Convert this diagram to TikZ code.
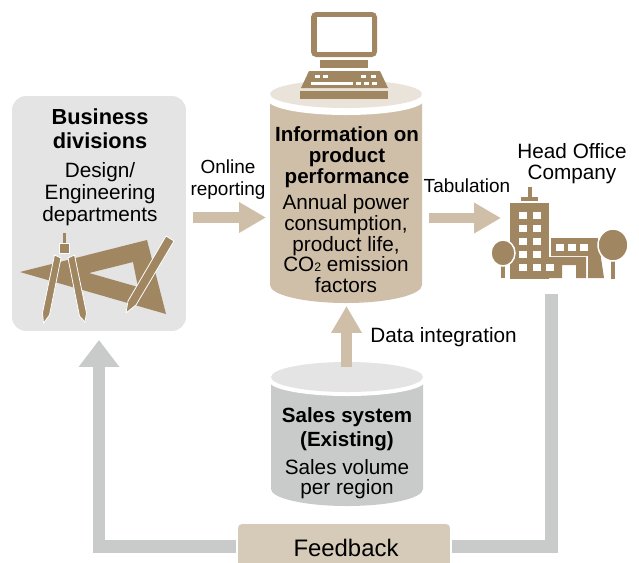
\documentclass[tikz,border=0pt]{standalone}
\usepackage{fontspec}
\setmainfont{Liberation Sans}
\usetikzlibrary{arrows.meta}
\definecolor{iconbrown}{HTML}{A08661}
\definecolor{tanbody}{HTML}{D0BFA8}
\definecolor{tantop}{HTML}{E9E3DA}
\definecolor{tanbox}{HTML}{D6CBB8}
\definecolor{greybody}{HTML}{C9CBCA}
\definecolor{greybox}{HTML}{E4E4E4}
\tikzset{
    txt/.style={font=\fontsize{11.8}{12}\selectfont,inner sep=0pt,text height=10.6pt,text depth=2.2pt},
    txtsmall/.style={txt,font=\fontsize{10.8}{12}\selectfont},
    txtbold/.style={txt,font=\fontsize{11.7}{12}\selectfont\bfseries},
    txtbig/.style={txt,font=\fontsize{12.4}{13}\selectfont\bfseries},
    icon/.style={fill=iconbrown},
    iconline/.style={fill=iconbrown,draw=white,line width=0.016cm},
    hole/.style={fill=white},
    softarrow/.style={draw=tanbody,line width=0.21cm,-{Triangle[length=0.54cm,width=0.58cm]}},
    backline/.style={draw=greybody,line width=0.26cm},
    backarrow/.style={backline,-{Triangle[length=0.54cm,width=0.78cm]}},
    region/.style={inner sep=0pt,outer sep=0pt}
}
\begin{document}
\begin{tikzpicture}[x=0.02cm,y=-0.02cm]
\clip (0,0) rectangle (639,562);
% Business divisions box
\node [region,fill=greybox,rounded corners=0.28cm,minimum width=3.48cm,minimum height=4.7cm] (business) at (99,213.5) {};
\node [txtbig] (businessa) at (100,117) {Business};
\node [txtbig] (businessb) at (100,141) {divisions};
\node [txt] (design) at (100,170) {Design/};
\node [txt] (engineering) at (100,192) {Engineering};
\node [txt] (departments) at (100,214) {departments};
% Set square
\fill [icon,even odd rule] (20,272) -- (147,240) -- (166,314) -- cycle
    (89,273) -- (133,262) -- (138,287) -- cycle;
% Compass
\fill [icon] (62.5,233) rectangle (65.5,243);
\draw [iconline] (59,243) rectangle (69,253);
\draw [iconline] (54.5,255) -- (61,258) -- (49.5,315) -- (43.5,323) -- (42.5,313) -- cycle;
\draw [iconline] (74.5,255) -- (68,258) -- (79.5,316) -- (85,322) -- (86.5,313) -- cycle;
% Pencil
\draw [iconline,line join=round] (126,313) -- (128,301) -- (166,236) -- (174,241) -- (136,305) -- cycle;
% Information cylinder
\fill [tanbody] (270,100) -- (270,285) arc [start angle=180,end angle=360,x radius=76,y radius=-18] -- (422,100) -- cycle;
\fill [white] (346,100) ellipse [x radius=78,y radius=15];
\fill [tantop] (346,94) ellipse [x radius=76,y radius=14];
\node [region,minimum width=3.04cm,minimum height=4.46cm] (infobody) at (346,191.5) {};
\node [txtbold] (infoa) at (347,134) {Information on};
\node [txtbold] (infob) at (347,155) {product};
\node [txtbold] (infoc) at (347,176) {performance};
\node [txt] (infod) at (346,202) {Annual power};
\node [txt] (infoe) at (346,223) {consumption,};
\node [txt] (infof) at (346,244) {product life,};
\node [txt] (infog) at (346,264) {CO{\fontsize{7}{7}\selectfont 2} emission};
\node [txt] (infoh) at (346,285) {factors};
% Computer
\fill [icon,rounded corners=0.1cm] (311,12) rectangle (377,57);
\fill [hole] (317,17) rectangle (372,52);
\fill [icon] (320,60) rectangle (368,68);
\fill [icon] (309,71) -- (380,71) -- (388,88) -- (301,88) -- cycle;
\fill [icon] (300,91) rectangle (388,99);
\foreach \u in {315,323,361,371}{
    \fill [hole] (\u,75) rectangle +(5,3);
}
\fill [hole] (311,82) rectangle (353,85);
\foreach \u in {356,364,372}{
    \fill [hole] (\u,82) rectangle +(5,3);
}
% Sales cylinder
\fill [greybody] (271,384) -- (271,489) arc [start angle=180,end angle=360,x radius=76,y radius=-17] -- (423,384) -- cycle;
\fill [white] (347,381) ellipse [x radius=78,y radius=15];
\fill [greybox] (347,377) ellipse [x radius=76,y radius=15];
\node [region,minimum width=3.04cm,minimum height=2.88cm] (salesbody) at (347,434) {};
\node [txtbold] (salesa) at (347,415) {Sales system};
\node [txtbold] (salesb) at (347,439) {(Existing)};
\node [txt] (salesc) at (347,467) {Sales volume};
\node [txt] (salesd) at (347,487) {per region};
% Building
\node [region,icon,minimum width=0.78cm,minimum height=1.52cm] (tower) at (529.5,241) {};
\fill [icon] (528,187) rectangle (532,197);
\fill [icon] (521,197) rectangle (538,201);
\fill [icon] (549,257) -- (586,257) -- (586,278) -- (576,278) -- (576,265) -- (562,265) -- (562,278) -- (549,278) -- cycle;
\fill [icon] (551,238) -- (598,238) -- (604,278) -- (588,278) -- (588,256) -- (551,256) -- cycle;
\foreach \a in {212,225,238,251,264}{
    \foreach \u in {519,533}{
        \fill [hole] (\u,\a) rectangle +(8,7);
    }
}
\fill [hole] (546,264) rectangle +(8,7);
\foreach \u in {556,568,580}{
    \fill [hole] (\u,244) rectangle +(8,7);
}
% Trees
\fill [icon] (611,250) rectangle (615,279);
\draw [iconline,line width=0.03cm] (613,245) ellipse [x radius=15,y radius=16];
\fill [icon] (501,255) rectangle (505,278);
\draw [iconline,line width=0.03cm] (503,253) ellipse [x radius=12,y radius=13];
\coordinate (officefoot) at (551.5,294);
% Feedback box
\node [region,fill=tanbox,rounded corners=0.08cm,minimum width=4.24cm,minimum height=0.88cm] (feedback) at (344,546) {};
\node [txt,font=\fontsize{13.6}{13.6}\selectfont] (feedbacktext) at (346,549) {Feedback};
% Figure text
\node [txtsmall] (online) at (228,166) {Online};
\node [txtsmall] (reporting) at (228,188) {reporting};
\node [txtsmall] (tabulation) at (467,185) {Tabulation};
\node [txt] (headoffice) at (572,151) {Head Office};
\node [txt] (company) at (572,172) {Company};
\node [txt,anchor=west] (dataint) at (370,335) {Data integration};
% Arrows
\draw [softarrow,shorten <=0.15cm,shorten >=0.08cm] (business.east |- 0,217.5) -- (infobody.west |- 0,217.5);
\draw [softarrow,shorten <=0.14cm,shorten >=0.18cm] (infobody.east |- 0,218) -- (tower.west |- 0,218);
\draw [softarrow,shorten <=-0.1cm,shorten >=0.06cm] (salesbody.north -| 346.5,0) -- (infobody.south -| 346.5,0);
\draw [backline,shorten >=0.04cm] (officefoot) |- (feedback.east);
\draw [backarrow,shorten <=0.04cm,shorten >=0.18cm] (feedback.west) -| (business.south);
\end{tikzpicture}
\end{document}
